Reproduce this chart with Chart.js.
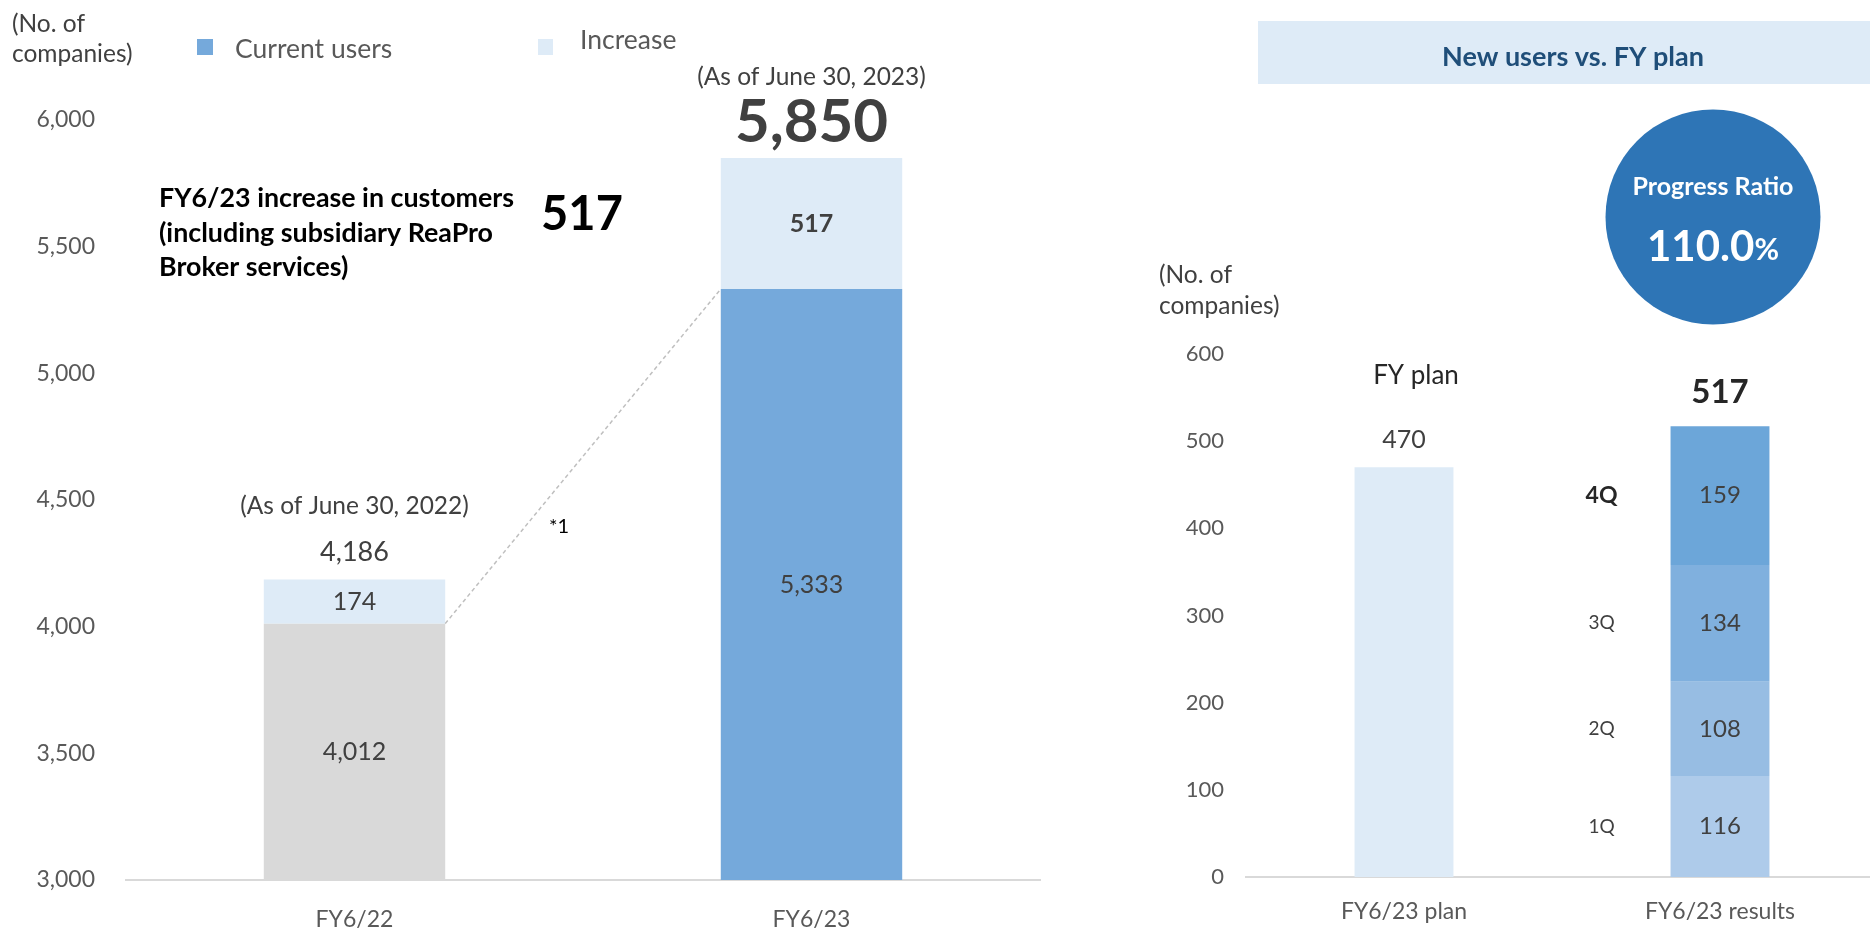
<!DOCTYPE html>
<html>
<head>
<meta charset="utf-8">
<script src="https://cdn.jsdelivr.net/npm/chart.js@4.4.1/dist/chart.umd.min.js"></script>
<style>
  html, body { margin: 0; padding: 0; background: #fff; overflow: hidden; }
  body { width: 1870px; height: 931px; position: relative; }
  .pane { position: absolute; top: 0; height: 931px; }
  #paneBase { left: 0; width: 1080px; }
  #panePlan { left: 1140px; width: 760px; }
</style>
</head>
<body>
<div class="pane" id="paneBase"><canvas id="chartBase"></canvas></div>
<div class="pane" id="panePlan"><canvas id="chartPlan"></canvas></div>
<script>
// customer base at fiscal year end
const fyLabels = ['FY6/22', 'FY6/23'];
const currentUsers = [4012, 5333];
const increase = [174, 517];
const asOfLabels = ['(As of June 30, 2022)', '(As of June 30, 2023)'];
const baseTicks = [3000, 3500, 4000, 4500, 5000, 5500, 6000];

// new users against the full-year plan
const planLabels = ['FY6/23 plan', 'FY6/23 results'];
const fyPlan = [470, null];
const quarterNames = ['1Q', '2Q', '3Q', '4Q'];
const quarterNew = [116, 108, 134, 159];
const planTicks = [0, 100, 200, 300, 400, 500, 600];

const GREY = '#D9D9D9', BLUE = '#75A9DB', PALE = '#DEEBF7';
const QCOL = ['#AECBEA', '#97BDE3', '#80B0DE', '#6CA6D9'];
const INK = '#404040', DARK = '#262626';
const FONT = 'Lato, "Noto Sans", sans-serif';

Chart.defaults.font.family = FONT;
Chart.defaults.color = '#595959';

const fmt = v => v.toLocaleString('en-US');
const font = (size, bold) => (bold ? 'bold ' : '') + size + 'px ' + FONT;

function txt(ctx, s, x, y, f, color, align) {
  ctx.save();
  ctx.font = f;
  ctx.fillStyle = color;
  ctx.textAlign = align || 'center';
  ctx.textBaseline = 'middle';
  ctx.fillText(s, x, y);
  ctx.restore();
}

// y-pixel of the middle of a stacked segment, clipped to the visible range
function segMid(scale, from, to) {
  const lo = Math.max(scale.min, from);
  return (scale.getPixelForValue(lo) + scale.getPixelForValue(to)) / 2;
}

const baseNotes = {
  id: 'baseNotes',
  afterDatasetsDraw(chart) {
    const { ctx, chartArea: area } = chart;
    const y = chart.scales.y;
    const bars = chart.getDatasetMeta(0).data;
    const ds = chart.data.datasets;

    // unit + legend
    txt(ctx, '(No. of', 12, 24, font(24.5), INK, 'left');
    txt(ctx, 'companies)', 12, 54, font(24.5), INK, 'left');
    ctx.fillStyle = ds[0].backgroundColor[1];
    ctx.fillRect(197, 39, 16, 16);
    txt(ctx, ds[0].label, 235, 49, font(26.5), '#595959', 'left');
    ctx.fillStyle = ds[1].backgroundColor;
    ctx.fillRect(538, 39, 15, 16);
    txt(ctx, ds[1].label, 580, 40, font(26.5), '#595959', 'left');

    // dashed connector between the two bases
    const b0 = bars[0], b1 = bars[1];
    const x0 = b0.x + b0.width / 2, y0 = y.getPixelForValue(currentUsers[0]);
    const x1 = b1.x - b1.width / 2, y1 = y.getPixelForValue(currentUsers[1]);
    ctx.save();
    ctx.setLineDash([4, 3]);
    ctx.strokeStyle = '#BFBFBF';
    ctx.lineWidth = 1.5;
    ctx.beginPath();
    ctx.moveTo(x0, y0);
    ctx.lineTo(x1, y1);
    ctx.stroke();
    ctx.restore();
    const t = 0.29;
    txt(ctx, '*1', x0 + (x1 - x0) * t + 34, y0 + (y1 - y0) * t, font(20), '#000', 'center');

    // segment values, totals and dates
    currentUsers.forEach((cu, i) => {
      const bx = bars[i].x;
      const total = cu + increase[i];
      txt(ctx, fmt(cu), bx, segMid(y, y.min, cu), font(25), INK);
      txt(ctx, fmt(increase[i]), bx, segMid(y, cu, total), font(25, i === 1), INK);
      const top = y.getPixelForValue(total);
      const ty = i === 1 ? top - 35 : top - 27;
      txt(ctx, fmt(total), bx, ty, i === 1 ? font(60, true) : font(27), INK);
      txt(ctx, asOfLabels[i], bx, ty - 46, font(24.5), INK);
    });

    // yearly increase callout
    const lx = area.left + 33;
    const cf = font(26.8, true);
    txt(ctx, 'FY6/23 increase in customers', lx, area.top + 78, cf, '#000', 'left');
    txt(ctx, '(including subsidiary ReaPro', lx, area.top + 113, cf, '#000', 'left');
    txt(ctx, 'Broker services)', lx, area.top + 147, cf, '#000', 'left');
    txt(ctx, fmt(increase[1]), area.left + 456, area.top + 95, font(47, true), '#000');
  }
};

const planNotes = {
  id: 'planNotes',
  afterDatasetsDraw(chart) {
    const { ctx } = chart;
    const y = chart.scales.y;
    const ds = chart.data.datasets;

    // heading band
    ctx.fillStyle = PALE;
    ctx.fillRect(118, 21, chart.width - 118, 63);
    txt(ctx, 'New users vs. FY plan', 433, 57, font(27, true), '#1F4E79');

    // progress ratio badge
    const done = quarterNew.reduce((a, v) => a + v, 0);
    const ratio = (done / fyPlan[0] * 100).toFixed(1);
    ctx.fillStyle = '#2E75B6';
    ctx.beginPath();
    ctx.arc(573, 217, 107.5, 0, Math.PI * 2);
    ctx.fill();
    txt(ctx, 'Progress Ratio', 573, 187, font(25, true), '#fff');
    ctx.save();
    ctx.font = font(42, true);
    const w1 = ctx.measureText(ratio).width;
    ctx.font = font(30, true);
    const w2 = ctx.measureText('%').width;
    ctx.restore();
    const sx = 573 - (w1 + w2) / 2;
    txt(ctx, ratio, sx, 247, font(42, true), '#fff', 'left');
    txt(ctx, '%', sx + w1, 250, font(30, true), '#fff', 'left');

    // unit
    txt(ctx, '(No. of', 19, 275, font(24.5), INK, 'left');
    txt(ctx, 'companies)', 19, 306, font(24.5), INK, 'left');

    // plan bar
    const pb = chart.getDatasetMeta(0).data[0];
    const pTop = y.getPixelForValue(fyPlan[0]);
    txt(ctx, fmt(fyPlan[0]), pb.x, pTop - 27, font(25), INK);
    txt(ctx, ds[0].label, pb.x + 12, pTop - 92, font(26), DARK);

    // quarterly results
    let acc = 0;
    quarterNew.forEach((v, k) => {
      const el = chart.getDatasetMeta(k + 1).data[1];
      const my = segMid(y, acc, acc + v);
      txt(ctx, fmt(v), el.x, my, font(24), INK);
      const last = k === quarterNew.length - 1;
      txt(ctx, quarterNames[k], el.x - el.width / 2 - 69, my, last ? font(23, true) : font(19), last ? DARK : INK);
      acc += v;
    });
    const rb = chart.getDatasetMeta(1).data[1];
    txt(ctx, fmt(acc), rb.x, y.getPixelForValue(acc) - 34, font(33, true), DARK);
  }
};

new Chart(document.getElementById('chartBase'), {
  type: 'bar',
  data: {
    labels: fyLabels,
    datasets: [
      { label: 'Current users', data: currentUsers, backgroundColor: [GREY, BLUE], clip: 0 },
      { label: 'Increase', data: increase, backgroundColor: PALE, clip: 0 }
    ]
  },
  options: {
    responsive: true,
    maintainAspectRatio: false,
    animation: false,
    devicePixelRatio: 1,
    layout: { padding: { top: 120, right: 40, left: 0, bottom: 0 } },
    datasets: { bar: { categoryPercentage: 1, barPercentage: 0.397 } },
    plugins: { legend: { display: false }, tooltip: { enabled: false } },
    scales: {
      x: {
        stacked: true,
        afterFit: s => { s.height = 51; },
        grid: { display: false, drawTicks: false },
        border: { color: '#D9D9D9', width: 2 },
        ticks: { padding: 26, font: { size: 23 }, color: '#595959' }
      },
      y: {
        stacked: true,
        min: 3000,
        max: 6000,
        afterBuildTicks: s => { s.ticks = baseTicks.map(v => ({ value: v })); },
        afterFit: s => { s.width = 126; },
        grid: { display: false, drawTicks: false },
        border: { display: false },
        ticks: { padding: 31, font: { size: 23 }, color: '#595959', callback: v => fmt(v) }
      }
    }
  },
  plugins: [baseNotes]
});

new Chart(document.getElementById('chartPlan'), {
  type: 'bar',
  data: {
    labels: planLabels,
    datasets: [
      { label: 'FY plan', data: fyPlan, backgroundColor: PALE },
      ...quarterNames.map((q, k) => ({ label: q, data: [null, quarterNew[k]], backgroundColor: QCOL[k] }))
    ]
  },
  options: {
    responsive: true,
    maintainAspectRatio: false,
    animation: false,
    devicePixelRatio: 1,
    layout: { padding: { top: 354, right: 22, left: 0, bottom: 0 } },
    datasets: { bar: { categoryPercentage: 1, barPercentage: 0.313 } },
    plugins: { legend: { display: false }, tooltip: { enabled: false } },
    scales: {
      x: {
        stacked: true,
        afterFit: s => { s.height = 54; },
        grid: { display: false, drawTicks: false },
        border: { color: '#D9D9D9', width: 2 },
        ticks: { padding: 21, font: { size: 23 }, color: '#595959' }
      },
      y: {
        stacked: true,
        min: 0,
        max: 600,
        afterBuildTicks: s => { s.ticks = planTicks.map(v => ({ value: v })); },
        afterFit: s => { s.width = 106; },
        grid: { display: false, drawTicks: false },
        border: { display: false },
        ticks: { padding: 22, font: { size: 22 }, color: '#595959' }
      }
    }
  },
  plugins: [planNotes]
});
</script>
</body>
</html>
